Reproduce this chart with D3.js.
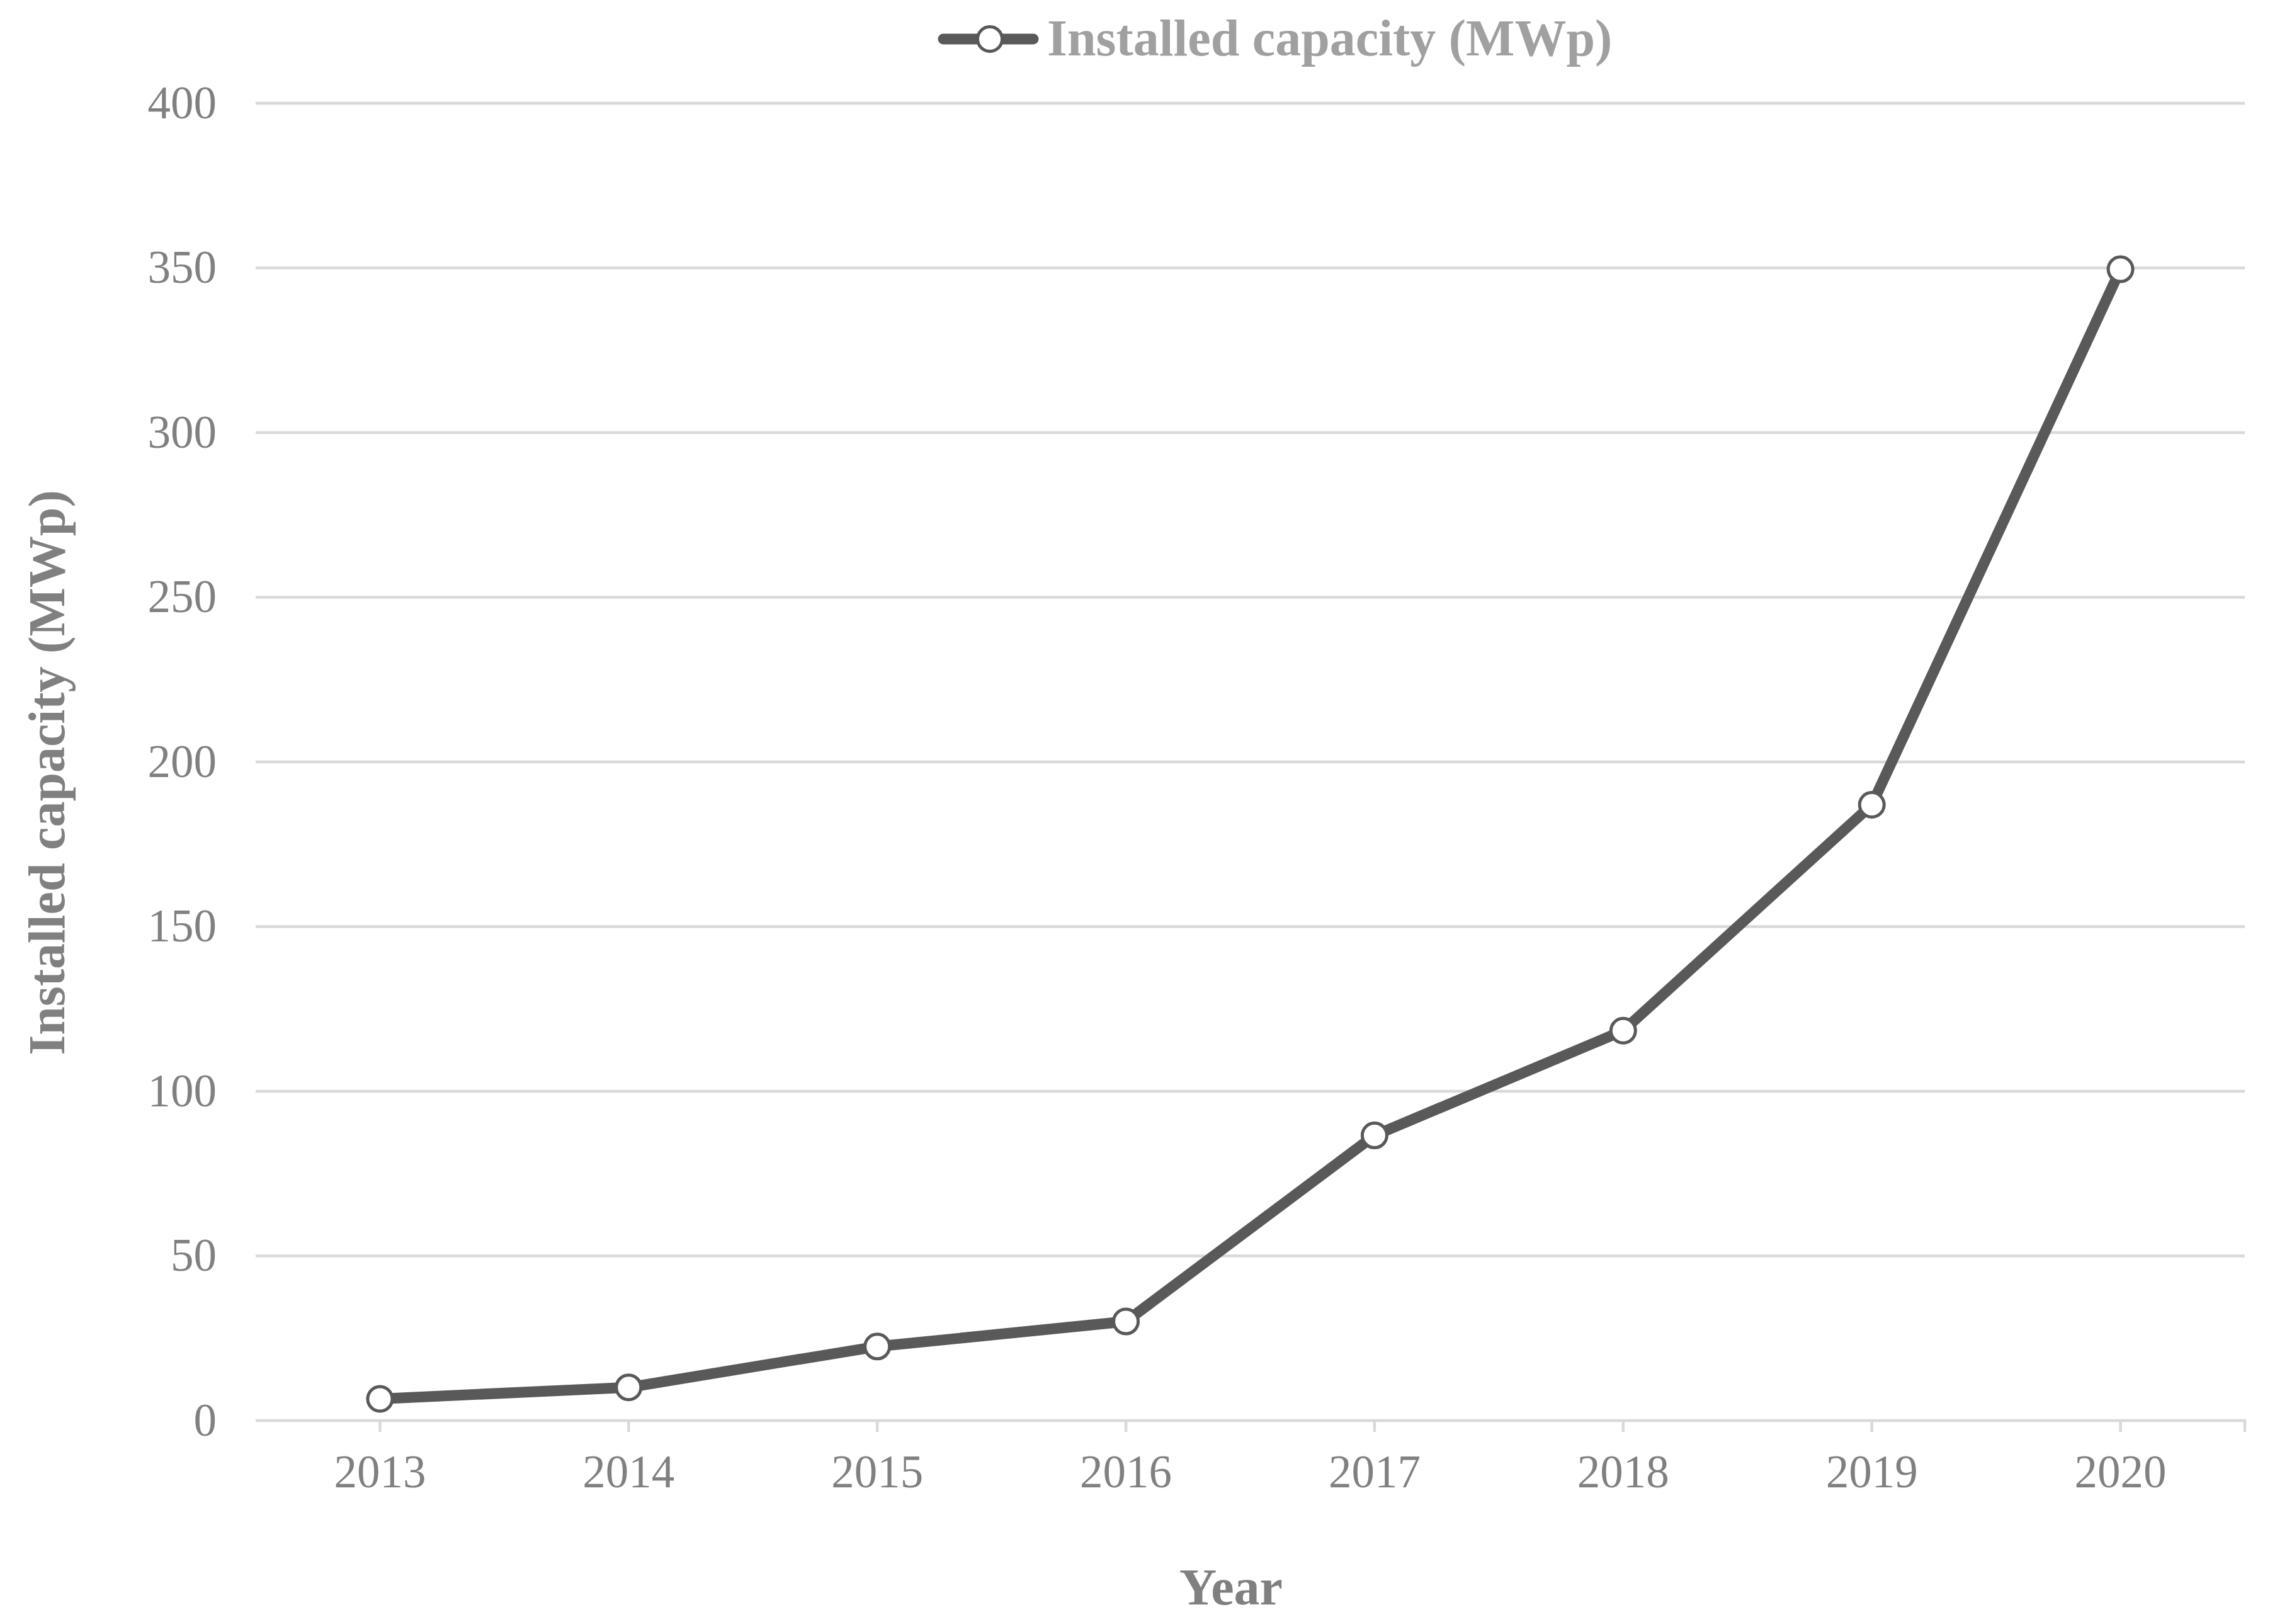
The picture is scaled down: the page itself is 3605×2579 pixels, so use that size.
<!DOCTYPE html>
<html>
<head>
<meta charset="utf-8">
<script src="https://cdn.jsdelivr.net/npm/d3@7"></script>
<style>
html,body{margin:0;padding:0;background:#fff;}
svg{display:block;}
text{font-family:"Liberation Serif","Times New Roman",serif;}
</style>
</head>
<body>
<script>
const years = ["2013","2014","2015","2016","2017","2018","2019","2020"];
const capacity = [6.6, 10.1, 22.5, 30.1, 86.6, 118.4, 187, 349.6];
const yTicks = [0, 50, 100, 150, 200, 250, 300, 350, 400];
const seriesName = "Installed capacity (MWp)";
const xTitle = "Year";
const yTitle = "Installed capacity (MWp)";

(function () {
const W = 3605, H = 2579;
const pLeft = 406, pRight = 3565, pTop = 164, pBottom = 2256;

const svg = d3.select("body").append("svg").attr("width", W).attr("height", H);

const x = d3.scaleBand().domain(years).range([pLeft, pRight]).padding(0);
const y = d3.scaleLinear().domain([0, 400]).range([pBottom, pTop]);

const gridColor = "#d9d9d9";
const lineColor = "#595959";
const textColor = "#808080";

// gridlines
svg.append("g").selectAll("line").data(yTicks.filter(d => d > 0)).join("line")
  .attr("x1", pLeft).attr("x2", pRight)
  .attr("y1", d => y(d)).attr("y2", d => y(d))
  .attr("stroke", gridColor).attr("stroke-width", 4.5);

// y axis labels
const yAxis = d3.axisLeft(y).tickValues(yTicks).tickSize(0).tickPadding(62).tickFormat(d3.format("d"));
const gy = svg.append("g").attr("transform", `translate(${pLeft},0)`).call(yAxis);
gy.select(".domain").remove();
gy.selectAll("text").attr("font-size", 73).attr("fill", textColor)
  .attr("font-family", '"Liberation Serif","Times New Roman",serif');

// x axis
const xAxis = d3.axisBottom(x).tickSize(18).tickPadding(36);
const gx = svg.append("g").attr("transform", `translate(0,${pBottom})`).call(xAxis);
gx.select(".domain").attr("stroke", gridColor).attr("stroke-width", 4.5).attr("fill", "none")
  .attr("d", `M${pLeft},0H${pRight}V18`);
gx.selectAll(".tick line").attr("stroke", gridColor).attr("stroke-width", 4.5);
gx.selectAll("text").attr("font-size", 73).attr("fill", textColor)
  .attr("font-family", '"Liberation Serif","Times New Roman",serif');

// line
const line = d3.line().x((d, i) => x(years[i]) + x.bandwidth() / 2).y(d => y(d));
svg.append("path").datum(capacity).attr("d", line)
  .attr("fill", "none").attr("stroke", lineColor).attr("stroke-width", 17)
  .attr("stroke-linejoin", "round").attr("stroke-linecap", "round");

svg.append("g").selectAll("circle").data(capacity).join("circle")
  .attr("cx", (d, i) => x(years[i]) + x.bandwidth() / 2)
  .attr("cy", d => y(d)).attr("r", 19.5)
  .attr("fill", "#fff").attr("stroke", lineColor).attr("stroke-width", 5);

// axis titles
svg.append("text").attr("x", 1955).attr("y", 2548).attr("text-anchor", "middle")
  .attr("font-size", 82).attr("font-weight", "bold").attr("fill", textColor).text(xTitle);
svg.append("text").attr("transform", "translate(102,1227) rotate(-90)").attr("text-anchor", "middle")
  .attr("font-size", 82).attr("font-weight", "bold").attr("fill", textColor).text(yTitle);

// legend
const lg = svg.append("g");
lg.append("line").attr("x1", 1498).attr("x2", 1641).attr("y1", 62).attr("y2", 62)
  .attr("stroke", lineColor).attr("stroke-width", 17).attr("stroke-linecap", "round");
lg.append("circle").attr("cx", 1572).attr("cy", 62).attr("r", 19.5)
  .attr("fill", "#fff").attr("stroke", lineColor).attr("stroke-width", 5);
lg.append("text").attr("x", 1663).attr("y", 88).attr("font-size", 82).attr("font-weight", "bold")
  .attr("fill", "#a0a0a0").text(seriesName);
})();
</script>
</body>
</html>
